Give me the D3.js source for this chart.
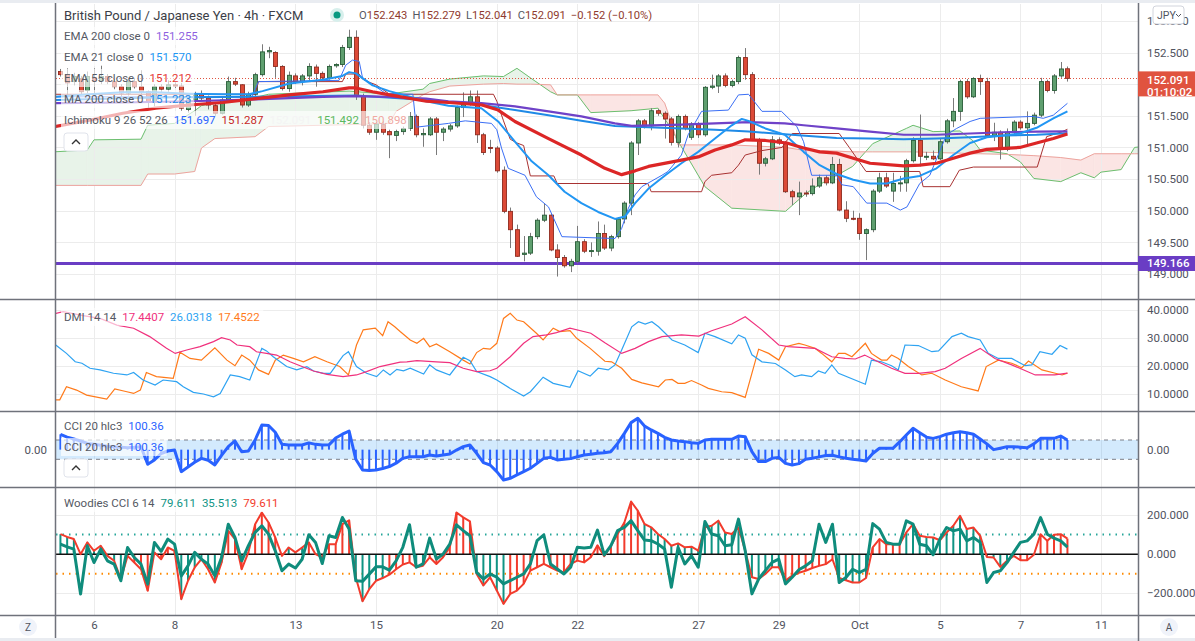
<!DOCTYPE html>
<html><head><meta charset="utf-8">
<script src="https://cdn.jsdelivr.net/npm/d3@7/dist/d3.min.js"></script>
<style>
html,body{margin:0;padding:0;background:#fff;overflow:hidden}
svg text{font-family:Roboto,"Noto Sans",sans-serif}
</style></head><body>
<svg id="chart" width="1195" height="641"></svg>
<script>
// ---------------- DATA ----------------
const tickLabels = ["6","8","13","15","20","22","27","29","Oct","5","7","11"];
const tickBars   = [0,12,30,42,60,72,90,102,114,126,138,150];
const firstBar = -5;
// [open, high, low, close] for bars -5 .. 145
const candles = [
[152.20,152.24,152.12,152.15],[152.15,152.25,151.83,152.02],[152.04,152.18,151.98,152.12],[152.08,152.13,151.83,151.88],[151.90,152.20,151.86,152.12],
[152.10,152.25,151.83,152.05],[152.05,152.30,152.00,152.12],[152.12,152.16,152.00,152.04],[152.04,152.08,151.92,151.96],[151.96,152.00,151.80,151.86],
[151.86,152.08,151.82,152.04],[152.04,152.10,151.93,151.96],[151.96,152.22,151.84,151.88],[151.88,151.90,151.60,151.72],[151.72,152.00,151.65,151.96],
[151.96,152.00,151.88,151.92],[151.92,152.06,151.88,151.99],[151.99,152.03,151.94,151.97],[151.97,152.02,151.58,151.62],[151.60,151.78,151.55,151.75],
[151.75,151.88,151.50,151.85],[151.85,151.90,151.74,151.78],[151.78,151.82,151.60,151.67],[151.66,151.70,151.50,151.54],[151.54,151.78,151.52,151.75],
[151.75,152.12,151.72,152.04],[152.04,152.10,151.97,152.00],[151.99,152.00,151.63,151.67],[151.67,151.88,151.64,151.84],[151.84,152.18,151.80,152.15],
[152.15,152.63,152.12,152.51],[152.51,152.59,152.41,152.53],[152.50,152.52,152.10,152.28],[152.28,152.30,151.90,151.93],[151.93,152.20,151.88,152.14],
[152.13,152.17,152.00,152.04],[152.04,152.16,151.98,152.13],[152.13,152.33,152.05,152.28],[152.27,152.31,151.96,152.17],[152.17,152.20,152.06,152.10],
[152.10,152.31,152.07,152.28],[152.29,152.33,152.26,152.31],[152.31,152.62,152.27,152.58],[152.58,152.86,152.54,152.74],[152.74,152.85,151.75,151.81],
[151.81,151.85,151.30,151.35],[151.35,151.40,151.20,151.24],[151.24,151.40,151.12,151.37],[151.36,151.42,151.20,151.24],[151.25,151.28,150.83,151.20],
[151.19,151.28,151.10,151.25],[151.25,151.33,151.20,151.30],[151.30,151.56,151.26,151.49],[151.49,151.52,151.16,151.20],[151.20,151.30,151.01,151.22],
[151.20,151.48,151.18,151.45],[151.45,151.48,150.88,151.24],[151.24,151.32,151.10,151.29],[151.29,151.37,151.25,151.34],[151.34,151.66,151.31,151.63],
[151.63,151.87,151.48,151.70],[151.70,151.90,151.66,151.80],[151.80,151.90,151.07,151.20],[151.20,151.23,150.88,150.92],[151.00,151.12,150.91,150.99],
[150.99,151.02,150.60,150.63],[150.64,150.70,149.96,149.99],[149.99,150.05,149.41,149.70],[149.70,149.78,149.27,149.28],[149.31,149.60,149.20,149.33],
[149.33,149.65,149.30,149.59],[149.59,149.88,149.55,149.85],[149.85,150.12,149.82,149.93],[149.93,149.96,149.36,149.38],[149.38,149.47,148.96,149.26],
[149.26,149.30,149.10,149.13],[149.13,149.24,149.03,149.20],[149.20,149.76,149.17,149.51],[149.51,149.55,149.33,149.36],[149.36,149.50,149.27,149.37],
[149.36,149.83,149.29,149.64],[149.64,149.78,149.38,149.41],[149.41,149.62,149.36,149.59],[149.59,149.90,149.56,149.87],[149.87,150.15,149.80,150.12],
[150.12,151.10,149.93,151.07],[151.07,151.45,150.88,151.42],[151.42,151.45,151.30,151.34],[151.34,151.62,151.27,151.58],[151.58,151.61,151.50,151.54],
[151.54,151.57,151.14,151.45],[151.45,151.48,151.03,151.08],[151.08,151.52,151.00,151.49],[151.49,151.52,151.27,151.30],[151.16,151.40,151.12,151.37],
[151.37,151.40,151.15,151.20],[151.20,151.97,151.17,151.95],[151.95,152.15,151.92,151.97],[151.97,152.16,151.86,152.13],[152.13,152.17,151.95,151.98],
[151.98,152.07,151.95,152.04],[152.04,152.45,152.00,152.42],[152.42,152.57,152.07,152.15],[152.15,152.19,151.10,151.12],[151.12,151.15,150.57,150.75],
[150.75,150.85,150.70,150.82],[150.82,151.18,150.80,151.12],[151.12,151.16,151.04,151.07],[151.07,151.10,150.28,150.30],[150.30,150.33,150.09,150.22],
[150.22,150.46,149.93,150.28],[150.28,150.32,150.22,150.27],[150.27,150.51,150.24,150.39],[150.39,150.57,150.36,150.52],[150.52,150.56,150.40,150.44],
[150.44,150.85,150.42,150.73],[150.73,150.82,149.99,150.01],[150.01,150.15,149.82,149.88],[149.88,150.00,149.85,149.87],[149.88,149.96,149.54,149.64],
[149.64,149.72,149.22,149.70],[149.70,150.34,149.66,150.31],[150.31,150.60,150.28,150.52],[150.52,150.60,150.36,150.39],[150.31,150.60,150.14,150.43],
[150.43,150.55,150.30,150.44],[150.44,150.82,150.30,150.79],[150.79,151.16,150.76,151.11],[151.11,151.52,150.70,150.86],[150.86,150.93,150.80,150.86],
[150.86,150.95,150.80,150.82],[150.82,151.15,150.80,151.09],[151.09,151.45,151.06,151.42],[151.42,151.78,151.32,151.57],[151.57,152.07,151.42,152.04],
[152.04,152.08,151.77,151.80],[151.80,152.11,151.78,152.09],[152.09,152.15,151.83,152.04],[152.04,152.10,151.17,151.19],[151.19,151.39,151.10,151.24],
[151.24,151.27,150.81,150.97],[150.97,151.30,150.94,151.24],[151.24,151.43,151.21,151.40],[151.40,151.43,151.28,151.31],[151.31,151.57,151.03,151.38],
[151.38,151.55,151.35,151.51],[151.51,152.10,151.48,152.04],[152.04,152.07,151.87,151.90],[151.90,152.16,151.85,152.13],[152.13,152.35,152.10,152.24],
[152.243,152.279,152.041,152.091]
];
// moving averages: [bar, value]
const ema200 = [[-5.7,151.70],[4.3,151.71],[14.2,151.73],[24.1,151.76],[34.1,151.80],[39,151.81],[44,151.80],[49.5,151.77],[52.8,151.73],[57.7,151.70],[62.7,151.65],[67.7,151.57],[72.6,151.49],[77.6,151.38],[80.1,151.34],[87.5,151.36],[92.5,151.38],[97.5,151.40],[102.9,151.38],[105.7,151.35],[110.6,151.30],[115.6,151.25],[120.6,151.20],[125.5,151.20],[130.5,151.22],[135.5,151.24],[140.4,151.25],[145,151.255]];
const ema21 = [[-5.7,151.80],[-0.7,151.84],[4.3,151.87],[9.2,151.87],[14.2,151.85],[19.2,151.84],[23.1,151.84],[25.1,151.89],[29.1,152.01],[34.1,152.07],[37,152.13],[38,152.19],[39,152.17],[41.5,151.98],[44,151.89],[49.5,151.73],[52.8,151.66],[57.7,151.62],[60.2,151.41],[62.7,151.09],[65.2,150.78],[67.7,150.56],[70.1,150.30],[72.6,150.12],[75.1,149.98],[77.6,149.87],[79.1,149.91],[80.6,150.12],[82.6,150.35],[85.1,150.56],[87.5,150.75],[90,150.93],[92.5,151.14],[95,151.35],[96.5,151.45],[97.5,151.42],[100,151.30],[102.9,151.20],[105.7,150.93],[108.1,150.72],[110.6,150.58],[113.1,150.49],[115.6,150.43],[118.1,150.43],[120.6,150.51],[123,150.55],[125.5,150.67],[128,150.88],[130.5,151.07],[133,151.16],[135.5,151.19],[137.9,151.22],[140.4,151.31],[142.9,151.46],[145,151.57]];
const ema55 = [[-5.7,151.33],[-0.7,151.43],[4.3,151.54],[9.2,151.62],[14.2,151.67],[19.2,151.71],[24.1,151.77],[29.1,151.83],[34.1,151.88],[38,151.94],[39,151.94],[41.5,151.88],[44,151.83],[49.5,151.73],[52.8,151.71],[57.8,151.67],[60.2,151.59],[62.7,151.41],[67.7,151.14],[72.6,150.88],[76.1,150.67],[78.6,150.57],[80.6,150.63],[82.6,150.70],[87.5,150.80],[90,150.85],[92.5,150.96],[95,151.04],[97,151.12],[100,151.11],[103.2,151.07],[105.7,150.99],[108.1,150.93],[110.6,150.91],[113.1,150.83],[115.6,150.75],[120.6,150.71],[123,150.72],[125.5,150.75],[128,150.83],[130.5,150.91],[133,150.97],[137.9,151.00],[140.4,151.07],[142.9,151.14],[145,151.212]];
const ma200 = [[-5.7,151.75],[9.2,151.79],[24.1,151.80],[39,151.82],[49.5,151.75],[57.7,151.67],[62.7,151.59],[67.7,151.51],[72.6,151.42],[77.6,151.34],[82.6,151.32],[87.5,151.30],[92.5,151.28],[97.5,151.25],[102.9,151.21],[110.6,151.15],[115.6,151.14],[120.6,151.13],[125.5,151.14],[130.5,151.16],[135.5,151.19],[140.4,151.20],[145,151.223]];
// ichimoku
const tenkan = [[-5.7,151.80],[23.5,151.80],[24.5,152.04],[36.5,152.06],[37.5,152.30],[38.5,152.38],[39.5,152.36],[40,152.10],[41,152.03],[43.5,151.85],[47.5,151.84],[48,151.32],[52.8,151.38],[55.3,151.42],[59.2,151.38],[60,151.28],[60.7,150.99],[61.7,150.67],[64.2,150.56],[65.9,150.22],[67.7,150.06],[69.7,149.59],[77.6,149.56],[78.6,149.72],[79.6,150.04],[80.6,150.25],[81.6,150.38],[84.6,150.56],[85.5,150.62],[87.5,150.88],[88.5,151.20],[90.5,151.57],[94.5,151.59],[96,151.83],[97.5,151.84],[99.5,151.57],[102.4,151.57],[104.7,151.33],[105.7,151.09],[106.9,150.56],[110.6,150.56],[111.4,150.41],[113.1,150.38],[115.1,150.12],[118.1,150.12],[120.1,150.01],[121.1,150.06],[123,150.43],[124.5,150.56],[127,151.20],[128.5,151.30],[130.5,151.41],[132,151.46],[139.9,151.49],[141.4,151.46],[142.9,151.51],[145,151.697]];
const kijun = [[-5.7,151.84],[24,151.84],[24.5,152.04],[37,152.04],[37.5,152.16],[39.5,152.16],[40,152.08],[41,152.03],[42,151.99],[43.5,151.88],[44,151.84],[59.5,151.84],[60,151.73],[61,151.42],[62,151.13],[63,151.07],[64,151.03],[65,150.55],[68.5,150.55],[69,150.43],[82.5,150.43],[83,150.30],[90.5,150.30],[91,150.46],[92,150.56],[95,150.60],[96,150.72],[97,150.88],[99.5,150.95],[102.5,151.0],[103,151.08],[104,151.22],[111,151.22],[112.5,151.0],[115,150.62],[123,150.62],[123.5,150.38],[127.5,150.38],[128.9,150.64],[131,150.69],[140.5,150.69],[141.9,151.17],[144,151.24],[145,151.287]];
const cloudIdx = [-6,-1,0,7,8,12,15,16,18,24,26,38,44,45,49,50,53,58,61,63,65,68,69,72,74,80,84,85,86,87,91,95,103,106,108,111,113,116,121,122,125,129,131,132,136,138,140,144,147,149,150,153,155,156];
const spanA = [150.93,150.96,151.12,151.13,151.35,151.38,151.58,151.66,151.70,151.79,151.84,151.89,151.84,151.86,151.92,152.01,152.08,152.13,152.12,152.25,152.10,151.88,151.83,151.83,151.55,151.58,151.62,151.45,151.30,151.10,150.38,150.04,149.99,150.27,150.41,150.58,150.70,151.06,151.30,151.35,151.25,151.26,151.10,150.96,150.90,150.77,150.51,150.46,150.60,150.52,150.61,150.65,151.00,151.01];
const spanB = [150.40,150.40,150.40,150.40,150.58,150.58,150.62,150.99,151.14,151.17,151.33,151.36,151.38,151.57,151.83,151.88,151.97,152.00,152.01,152.00,152.00,151.99,151.83,151.83,151.83,151.83,151.83,151.70,151.40,151.04,151.04,151.04,151.00,150.95,150.95,150.94,150.93,150.93,150.93,150.93,150.92,150.91,150.90,150.90,150.89,150.88,150.87,150.84,150.80,150.90,150.90,150.90,150.90,150.90];
const supportLevel = 149.166;
const lastPrice = 152.091;
const priceTicks = [153,152.5,152,151.5,151,150.5,150,149.5,149];
// DMI: [bar, value]
const adx = [[-5.7,38.8],[-4.6,39.4],[-1.6,38.0],[0.9,37.0],[3.4,34.6],[5.9,33.5],[8.3,30.5],[10.8,26.3],[12.1,24.5],[13.8,25.7],[15.8,26.9],[17.8,28.7],[19,30.1],[20.3,29.3],[21.3,27.5],[23.2,26.9],[24.2,25.1],[25.7,24.5],[27.2,23.9],[29.2,21.5],[30.7,20.1],[32.7,18.2],[34.7,17.0],[37.1,16.2],[39.1,16.8],[40.6,18.0],[42.6,19.8],[45.6,21.4],[46.6,21.5],[48.1,21.9],[51,21.5],[53,21.2],[55,19.2],[57,18.0],[59,18.3],[60,19.2],[62,23.3],[64,28.1],[65.4,30.5],[67.4,31.1],[68.9,31.9],[70.9,33.5],[74,31.7],[76.1,28.3],[78.6,24.5],[80.6,26.3],[82.6,28.7],[84.6,30.5],[87.5,31.1],[90.1,30.7],[92,32.6],[95,35.0],[97,37.6],[99.5,32.9],[102,27.5],[103.4,26.9],[107.4,26.3],[109.9,23.3],[111.9,22.7],[113.4,22.5],[114.8,23.9],[116.8,21.5],[118.8,19.2],[120.8,17.4],[122.8,17.4],[125.3,18.0],[126.8,19.2],[129.2,22.7],[132,26.3],[134.2,22.7],[136.7,20.4],[140.2,16.8],[143.1,16.8],[145,17.44]];
const plusDI = [[-5.7,27.5],[-4.1,24.5],[-2.8,21.5],[-1.8,21.0],[-0.6,19.2],[0.9,18.6],[2.9,17.4],[4.9,16.8],[5.9,17.7],[7.3,15.0],[9.1,13.2],[10.3,15.0],[12.3,14.4],[13.3,12.6],[14.8,10.6],[16.3,10.0],[17.8,9.0],[18.8,10.2],[20.3,16.8],[21.7,16.2],[23.2,15.0],[25,26.3],[25.7,25.4],[26.7,23.3],[28.7,19.8],[30.2,18.6],[31.7,19.8],[32.7,18.2],[34.2,17.4],[35.2,17.4],[37.1,23.7],[37.9,25.1],[39.1,19.8],[40.6,17.4],[42.1,16.2],[43.1,18.6],[44.1,16.8],[45.1,18.8],[46.1,18.3],[47.1,19.2],[49.1,17.1],[50,20.4],[51,18.6],[53,16.8],[55,23.1],[56,21.9],[57,18.0],[59,16.2],[60,15.0],[62,12.0],[64,9.3],[65,10.8],[66.9,16.0],[68.4,13.8],[70.9,12.4],[72.1,18.3],[73.9,16.4],[75.1,19.2],[76.6,18.6],[77.6,20.4],[78.6,25.7],[80.1,34.0],[81.1,35.8],[82.1,35.0],[83.1,35.8],[84.1,34.0],[86.1,29.3],[88,27.5],[90,24.8],[91,31.7],[92.5,30.5],[95,27.9],[96,31.1],[97,29.9],[98,24.0],[99.5,21.5],[101.5,20.9],[103,18.6],[104.4,16.2],[105.4,16.8],[106.9,16.2],[107.9,18.2],[108.9,17.4],[109.9,20.4],[110.9,17.4],[114.9,13.5],[115.8,22.1],[117.3,21.5],[118.8,20.1],[119.8,18.6],[120.8,27.5],[122.8,27.3],[124.8,25.1],[125.8,25.4],[127.8,30.5],[129.2,31.7],[130.2,30.5],[132,29.3],[133.2,24.5],[134.7,22.7],[136.7,22.7],[138.7,20.1],[139.7,20.4],[140.9,25.1],[142.7,24.2],[143.9,27.3],[145,26.03]];
const minusDI = [[-5.7,7.9],[-5.1,7.9],[-4.1,12.6],[-2.6,11.4],[-1.1,9.6],[1.9,8.2],[3.1,11.8],[4.9,10.8],[5.9,10.2],[6.9,11.4],[7.8,17.7],[9.3,16.2],[11.8,15.6],[12.8,24.9],[14.3,22.7],[16,22.1],[18,26.5],[19.8,22.1],[21,20.1],[22,23.9],[23.2,22.1],[24.5,18.6],[26,17.0],[27,22.1],[28.2,23.9],[29.7,22.7],[31.2,21.5],[32.9,23.3],[34.7,21.5],[36.6,19.8],[37.9,16.8],[39.1,27.5],[40.1,32.9],[41.9,33.5],[43,30.8],[43.8,35.8],[44.8,34.0],[45.6,32.3],[47.1,29.3],[48.1,28.1],[49.1,29.9],[50,26.9],[51,27.9],[53,25.1],[55,22.1],[56,20.7],[57,24.8],[58,26.3],[59,26.0],[60,28.1],[61,37.0],[62,38.8],[63,36.4],[64,35.8],[65.9,31.7],[66.9,29.3],[68.4,33.5],[69.4,32.3],[70.9,32.6],[71.9,29.9],[73.9,26.3],[76.1,21.7],[77.1,21.5],[78.6,19.2],[80.1,15.2],[81.6,14.0],[84.1,12.6],[85.1,15.0],[86.1,15.2],[87,13.8],[88,13.8],[89,14.8],[90.5,13.2],[91.5,12.0],[93.5,10.8],[95,10.5],[97,8.8],[99,26.0],[100.5,24.5],[102,22.1],[103,26.9],[105,28.1],[105.9,27.5],[107.4,26.3],[108.4,24.5],[109.9,21.5],[110.9,24.5],[111.9,24.5],[112.9,23.3],[114.9,28.1],[115.8,24.5],[117.3,22.1],[118.1,22.1],[118.8,23.9],[119.8,22.7],[121.3,19.8],[123.3,16.8],[124.8,17.4],[126.8,15.0],[129.2,12.6],[131.7,11.1],[132.9,19.8],[134.7,22.1],[136.7,21.0],[138.2,19.4],[139.2,21.8],[141.2,18.6],[143.2,17.4],[144.2,16.8],[145,17.45]];
const dmiTicks = [40,30,20,10];
// CCI 20 per bar (-5..145)
const cci = [159,130,110,90,65,55,45,35,30,25,21,25,31,-152,-107,-40,-14,-4,-228,-180,-130,-90,-110,-159,-60,31,90,-21,-14,100,255,250,180,55,48,48,48,70,55,48,50,120,160,193,-100,-211,-215,-211,-195,-175,-140,-90,-73,-73,-73,-55,-66,-55,-45,-4,31,48,-38,-135,-159,-228,-314,-297,-262,-228,-193,-142,-90,-80,-107,-100,-93,-73,-55,-48,-38,-31,-21,65,169,280,325,245,204,169,128,100,90,83,72,65,100,107,107,107,107,141,134,-21,-124,-124,-90,-80,-142,-159,-145,-100,-90,-75,-60,-58,-75,-90,-100,-107,-118,-40,14,14,14,80,152,221,175,130,117,135,160,175,186,175,160,110,60,0,15,31,31,25,20,60,117,117,117,141,100.36];
// Woodies CCI per bar (-5..145)
const wCci14 = [102,88,77,0,60,17,43,-9,-34,-128,-9,-43,-77,-187,9,-26,34,17,-230,-136,-68,-26,-77,-145,-43,119,77,-77,9,153,213,162,85,-9,34,9,34,60,0,-17,51,51,153,173,-119,-241,-179,-136,-122,-105,-77,-53,-42,-67,-59,-16,-50,-16,35,213,188,167,-101,-160,-118,-186,-254,-203,-186,-152,-84,-67,-50,-67,-84,-93,-50,-33,-42,-16,45,-10,43,103,162,269,222,154,137,103,77,43,55,35,38,18,137,145,171,111,103,137,18,-118,-127,-101,-67,-67,-135,-110,-95,-85,-71,-60,-51,-26,-122,-133,-145,-145,-122,34,77,51,51,51,111,153,94,88,85,71,111,145,196,128,136,94,-14,-17,-65,-34,-9,-31,-31,-3,102,68,99,102,79.611];
const wCci6 = [51,37,26,-204,43,-43,26,-34,-51,-136,34,-17,-51,-153,60,14,77,51,-111,-60,9,-26,-51,-111,-17,153,85,-34,43,111,145,102,17,-85,-51,-71,-26,99,60,-48,94,85,187,128,-136,-139,-102,-65,-65,-82,-34,35,150,-67,-50,82,-25,0,52,150,120,94,-93,-127,-101,-118,-152,-135,-118,-101,-50,69,99,-50,-76,-101,-67,35,31,35,123,-4,43,120,137,171,120,72,69,52,26,-169,35,-50,-8,-67,167,103,94,43,48,179,18,-203,-127,-84,-42,-25,-152,-118,-80,-60,-34,153,60,153,-145,-119,-77,-94,-77,156,128,60,51,51,170,153,51,43,-3,77,136,119,128,68,85,60,-145,-94,-85,-43,9,60,68,102,187,102,82,68,35.513];
const wHistTrend = "ttttttttttrrrrrrrrtttttttrrrrrrrrttttrrrrrrrtttttrrrrttrrrrrrrtttttrrrrrrrrrrrrrrrrrrrrtttttttttttttttttttttrrrrrrrrtttttrrrrrtttttttttttttttttrrrrrrrrr";
const woodTicks = [200,0,-200];

// ---------------- CHART ----------------
const svg = d3.select("#chart");
const W=1195, L=56, R=1138;
const panes = {main:[4,299], dmi:[300,411], cci:[412,487], wood:[488,615]};
const x  = d3.scaleLinear().domain([0,150]).range([94,1101]);
const yP = d3.scaleLinear().domain([149,152.5]).range([274,52.5]);
const yD = d3.scaleLinear().domain([10,40]).range([394,310]);
const yC = d3.scaleLinear().domain([-100,100]).range([459.3,440]);
const yW = d3.scaleLinear().domain([-200,200]).range([593.3,515]);

svg.append("rect").attr("width",W).attr("height",641).attr("fill","#fff");
svg.append("rect").attr("width",W).attr("height",3).attr("fill","#e9ecf1");
svg.append("rect").attr("y",638).attr("width",W).attr("height",3).attr("fill","#e9ecf1");

const defs = svg.append("defs");
Object.entries(panes).forEach(([k,[t,b]])=>{
  defs.append("clipPath").attr("id","clip-"+k).append("rect")
    .attr("x",L).attr("y",t).attr("width",R-L).attr("height",b-t);
});

// cloud fill
const cloudG = svg.append("g").attr("clip-path","url(#clip-main)");
const gCol="#e8f3e9", rCol="#fbe5e4";
function poly(pts,col){
  cloudG.append("polygon").attr("points",pts.map(p=>x(p[0])+","+yP(p[1])).join(" "))
    .attr("fill",col).attr("stroke",col).attr("stroke-width",0.6);
}
for(let k=0;k<cloudIdx.length-1;k++){
  const i0=cloudIdx[k],i1=cloudIdx[k+1],a0=spanA[k],a1=spanA[k+1],b0=spanB[k],b1=spanB[k+1];
  const d0=a0-b0,d1=a1-b1;
  if(d0*d1>=0){ poly([[i0,a0],[i1,a1],[i1,b1],[i0,b0]],(d0+d1)>=0?gCol:rCol); }
  else{
    const t=d0/(d0-d1), ic=i0+t*(i1-i0), vc=a0+t*(a1-a0);
    poly([[i0,a0],[ic,vc],[i0,b0]],d0>0?gCol:rCol);
    poly([[ic,vc],[i1,a1],[i1,b1]],d1>0?gCol:rCol);
  }
}

// grid
const grid = svg.append("g").attr("stroke","#ececec").attr("stroke-width",1);
tickBars.forEach(b=>grid.append("line").attr("x1",Math.round(x(b))+0.5).attr("x2",Math.round(x(b))+0.5).attr("y1",4).attr("y2",615));
priceTicks.forEach(p=>grid.append("line").attr("x1",L).attr("x2",R).attr("y1",Math.round(yP(p))+0.5).attr("y2",Math.round(yP(p))+0.5));
dmiTicks.forEach(v=>grid.append("line").attr("x1",L).attr("x2",R).attr("y1",Math.round(yD(v))+0.5).attr("y2",Math.round(yD(v))+0.5));
[200,-200].forEach(v=>grid.append("line").attr("x1",L).attr("x2",R).attr("y1",Math.round(yW(v))+0.5).attr("y2",Math.round(yW(v))+0.5));

const mainG = svg.append("g").attr("clip-path","url(#clip-main)");
const lineP = d3.line().x(d=>x(d[0])).y(d=>yP(d[1]));
// cloud edges
mainG.append("path").datum(cloudIdx.map((b,k)=>[b,spanA[k]])).attr("d",lineP).attr("fill","none").attr("stroke","#6cbf6f").attr("stroke-width",1);
mainG.append("path").datum(cloudIdx.map((b,k)=>[b,spanB[k]])).attr("d",lineP).attr("fill","none").attr("stroke","#eda49e").attr("stroke-width",1);

// support line & last price line
mainG.append("line").attr("x1",L).attr("x2",R).attr("y1",yP(supportLevel)).attr("y2",yP(supportLevel)).attr("stroke","#6a3dc4").attr("stroke-width",3);
mainG.append("line").attr("x1",L).attr("x2",R).attr("y1",Math.round(yP(lastPrice))+0.5).attr("y2",Math.round(yP(lastPrice))+0.5).attr("stroke","#e0533f").attr("stroke-width",1).attr("stroke-dasharray","1,2");

// candles
candles.forEach((d,k)=>{
  const i=k+firstBar, cx=Math.round(x(i))+0.5, [o,h,l,c]=d, up=c>=o;
  mainG.append("line").attr("x1",cx).attr("x2",cx).attr("y1",yP(h)).attr("y2",yP(l)).attr("stroke","#7a7a7a").attr("stroke-width",1);
  const top=yP(Math.max(o,c)), bot=yP(Math.min(o,c));
  mainG.append("rect").attr("x",cx-2).attr("y",top).attr("width",4).attr("height",Math.max(1,bot-top))
    .attr("fill",up?"#5f9f6f":"#dc4a37").attr("stroke",up?"#285c38":"#8e2a1e").attr("stroke-width",0.9);
});

// indicator lines on price
[[kijun,"#a83232",1],[tenkan,"#3b6ff5",1],[ma200,"#1f8ae6",2],[ema200,"#6f42c8",2.2],[ema21,"#2196f3",2],[ema55,"#dc2626",3.2]].forEach(([data,col,w])=>{
  mainG.append("path").datum(data).attr("d",lineP).attr("fill","none").attr("stroke",col).attr("stroke-width",w).attr("stroke-linejoin","round");
});

// DMI
const dmiG = svg.append("g").attr("clip-path","url(#clip-dmi)");
const lineD = d3.line().x(d=>x(d[0])).y(d=>yD(d[1]));
[[minusDI,"#ff7a1a"],[plusDI,"#2ea3f2"],[adx,"#f0317d"]].forEach(([data,col])=>{
  dmiG.append("path").datum(data).attr("d",lineD).attr("fill","none").attr("stroke",col).attr("stroke-width",1.2);
});

// CCI
const cciG = svg.append("g").attr("clip-path","url(#clip-cci)");
cciG.append("rect").attr("x",L).attr("width",R-L).attr("y",yC(100)).attr("height",yC(-100)-yC(100)).attr("fill","rgba(33,150,243,0.2)");
[100,-100].forEach(v=>cciG.append("line").attr("x1",L).attr("x2",R).attr("y1",yC(v)).attr("y2",yC(v)).attr("stroke","#7c7f88").attr("stroke-dasharray","4,4"));
cci.forEach((v,k)=>{ const cx=x(k+firstBar);
  cciG.append("line").attr("x1",cx).attr("x2",cx).attr("y1",yC(0)).attr("y2",yC(v)).attr("stroke","#2962ff").attr("stroke-width",2); });
cciG.append("path").datum(cci).attr("d",d3.line().x((v,k)=>x(k+firstBar)).y(v=>yC(v))).attr("fill","none").attr("stroke","#2962ff").attr("stroke-width",3).attr("stroke-linejoin","round");

// Woodies CCI
const wG = svg.append("g").attr("clip-path","url(#clip-wood)");
wG.append("line").attr("x1",L).attr("x2",R).attr("y1",yW(100)).attr("y2",yW(100)).attr("stroke","#26a69a").attr("stroke-width",2).attr("stroke-dasharray","1.5,5");
wG.append("line").attr("x1",L).attr("x2",R).attr("y1",yW(-100)).attr("y2",yW(-100)).attr("stroke","#ff8a00").attr("stroke-width",2).attr("stroke-dasharray","1.5,5");
wCci14.forEach((v,k)=>{ const cx=x(k+firstBar);
  wG.append("line").attr("x1",cx).attr("x2",cx).attr("y1",yW(0)).attr("y2",yW(v)).attr("stroke",wHistTrend[k]==="t"?"#0f9484":"#f23b2c").attr("stroke-width",2); });
wG.append("line").attr("x1",L).attr("x2",R).attr("y1",yW(0)).attr("y2",yW(0)).attr("stroke","#111").attr("stroke-width",1.5);
const lineW = d3.line().x((v,k)=>x(k+firstBar)).y(v=>yW(v));
wG.append("path").datum(wCci14).attr("d",lineW).attr("fill","none").attr("stroke","#f23b2c").attr("stroke-width",2).attr("stroke-linejoin","round");
wG.append("path").datum(wCci6).attr("d",lineW).attr("fill","none").attr("stroke","#0f8c7c").attr("stroke-width",3).attr("stroke-linejoin","round");

// separators & borders
const sep = svg.append("g").attr("stroke","#6f727b").attr("stroke-width",1.5);
[299.5,411.5,487.5,615.5].forEach(y=>sep.append("line").attr("x1",0).attr("x2",W).attr("y1",y).attr("y2",y));
sep.append("line").attr("x1",55.5).attr("x2",55.5).attr("y1",3).attr("y2",638);
sep.append("line").attr("x1",1138.5).attr("x2",1138.5).attr("y1",3).attr("y2",641);

// axes
const axTxt = "#50535e";
function styleAxis(g){ g.select(".domain").remove(); g.selectAll("text").attr("fill",axTxt).style("font-size","11.5px").style("font-family","Roboto, 'Noto Sans', sans-serif"); }
svg.append("g").attr("transform",`translate(${R},0)`).call(d3.axisRight(yP).tickValues(priceTicks.filter(p=>p!==152)).tickFormat(d3.format(".3f")).tickSize(0).tickPadding(9)).call(styleAxis);
svg.append("g").attr("transform",`translate(${R},0)`).call(d3.axisRight(yD).tickValues(dmiTicks).tickFormat(d3.format(".4f")).tickSize(0).tickPadding(9)).call(styleAxis);
svg.append("g").attr("transform",`translate(${R},0)`).call(d3.axisRight(yC).tickValues([0]).tickFormat(d3.format(".2f")).tickSize(0).tickPadding(9)).call(styleAxis);
svg.append("g").attr("transform",`translate(${L},0)`).call(d3.axisLeft(yC).tickValues([0]).tickFormat(d3.format(".2f")).tickSize(0).tickPadding(9)).call(styleAxis);
svg.append("g").attr("transform",`translate(${R},0)`).call(d3.axisRight(yW).tickValues(woodTicks).tickFormat(d3.format(".3f")).tickSize(0).tickPadding(9)).call(styleAxis);
svg.append("g").attr("transform",`translate(0,620)`).call(d3.axisBottom(x).tickValues(tickBars).tickFormat((d,i)=>tickLabels[i]).tickSize(0).tickPadding(1)).call(styleAxis);

// price labels
function priceBox(y,h,col,lines){
  svg.append("rect").attr("x",R).attr("y",y).attr("width",W-R).attr("height",h).attr("fill",col);
  lines.forEach((t,j)=>svg.append("text").attr("x",1147).attr("y",y+ (lines.length>1? 9+j*12 : h/2)).attr("dominant-baseline","central")
    .attr("fill","#fff").style("font-size","11.5px").style("font-weight","500").text(t));
}
priceBox(yP(lastPrice)-7,25,"#e0533f",[d3.format(".3f")(lastPrice),"01:10:02"]);
priceBox(yP(supportLevel)-7.5,15,"#6a3dc4",[d3.format(".3f")(supportLevel)]);

// JPY button
svg.append("rect").attr("x",1153).attr("y",6).attr("width",31).attr("height",18).attr("rx",3).attr("fill","#fff").attr("stroke","#d1d4dc");
svg.append("text").attr("x",1157).attr("y",15.5).attr("dominant-baseline","central").attr("fill","#50535e").style("font-size","10.5px").text("JPY");
svg.append("path").attr("d","M1176,14 L1178.5,16.5 L1181,14").attr("fill","none").attr("stroke","#50535e").attr("stroke-width",1);

// bottom circles
[[28,"Z"],[1169,"A"]].forEach(([cx,t])=>{
  svg.append("circle").attr("cx",cx).attr("cy",627).attr("r",9).attr("fill","#f0f3fa");
  svg.append("text").attr("x",cx).attr("y",627).attr("text-anchor","middle").attr("dominant-baseline","central").attr("fill","#50535e").style("font-size","10px").text(t);
});

// legends
function legendRow(y, parts, bg, size){
  const g = svg.append("g");
  const rect = g.append("rect");
  const text = g.append("text").attr("x",64).attr("y",y).attr("dominant-baseline","central").style("font-size",(size||11.5)+"px");
  parts.forEach((p,j)=>text.append("tspan").attr("dx",j?(p.gap||6):0).attr("fill",p.c).text(p.t));
  if(bg){ const bb=text.node().getBBox();
    rect.attr("x",bb.x-3).attr("y",y-9).attr("width",bb.width+6).attr("height",18).attr("fill","#fff").attr("fill-opacity",0.65); }
  return text;
}
const gray="#555963";
legendRow(15,[{t:"British Pound / Japanese Yen · 4h · FXCM",c:"#3b3e47"}],false,13);
svg.append("circle").attr("cx",337).attr("cy",15).attr("r",7).attr("fill","#d7efec");
svg.append("circle").attr("cx",337).attr("cy",15).attr("r",3.5).attr("fill","#089981");
const ohlc = svg.append("text").attr("x",359).attr("y",15).attr("dominant-baseline","central").style("font-size","11.2px");
[["O","152.243"],["H","152.279"],["L","152.041"],["C","152.091"]].forEach(([a,b],j)=>{
  ohlc.append("tspan").attr("dx",j?5:0).attr("fill",gray).text(a);
  ohlc.append("tspan").attr("fill","#8f3a2e").text(b);
});
ohlc.append("tspan").attr("dx",5).attr("fill","#8f3a2e").text("−0.152 (−0.10%)");

legendRow(36,[{t:"EMA 200 close 0",c:gray},{t:"151.255",c:"#8e5fe0"}],true);
legendRow(57,[{t:"EMA 21 close 0",c:gray},{t:"151.570",c:"#2196f3"}],true);
legendRow(78,[{t:"EMA 55 close 0",c:gray},{t:"151.212",c:"#e53935"}],true);
legendRow(99,[{t:"MA 200 close 0",c:gray},{t:"151.223",c:"#1e88e5"}],true);
legendRow(120,[{t:"Ichimoku 9 26 52 26",c:gray},{t:"151.697",c:"#2962ff"},{t:"151.287",c:"#c62828"},{t:"152.091",c:"#f4f4f4"},{t:"151.492",c:"#5cb860"},{t:"150.898",c:"#f0a8a2"}],true);

function collapseBtn(x0,y0){
  svg.append("rect").attr("x",x0).attr("y",y0).attr("width",24).attr("height",18).attr("rx",3).attr("fill","#fff").attr("stroke","#e0e3eb");
  svg.append("path").attr("d",`M${x0+8},${y0+11} L${x0+12},${y0+7} L${x0+16},${y0+11}`).attr("fill","none").attr("stroke","#333").attr("stroke-width",1.4);
}
collapseBtn(64,133);

legendRow(317,[{t:"DMI 14 14",c:gray},{t:"17.4407",c:"#f0317d"},{t:"26.0318",c:"#2ea3f2"},{t:"17.4522",c:"#ff7a1a"}],true);
legendRow(426,[{t:"CCI 20 hlc3",c:gray},{t:"100.36",c:"#2962ff"}],false);
legendRow(447,[{t:"CCI 20 hlc3",c:gray},{t:"100.36",c:"#2962ff"}],true);
collapseBtn(64,459);
legendRow(503,[{t:"Woodies CCI 6 14",c:gray},{t:"79.611",c:"#0f9484"},{t:"35.513",c:"#0f9484"},{t:"79.611",c:"#f23b2c"}],true);
</script></body></html>
